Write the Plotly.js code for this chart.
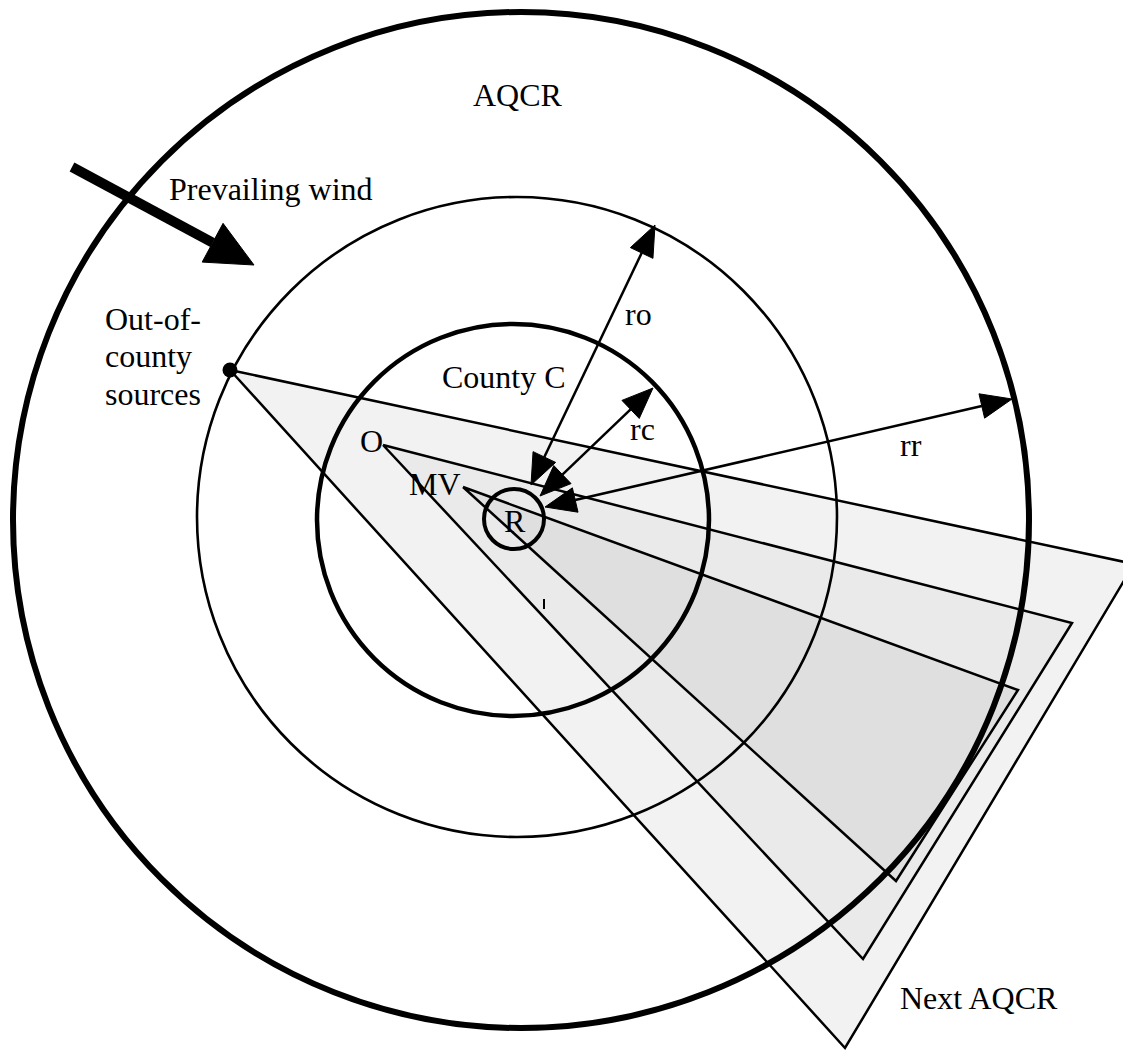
<!DOCTYPE html>
<html>
<head>
<meta charset="utf-8">
<script src="https://cdn.plot.ly/plotly-3.0.1.min.js"></script>
<style>html,body{margin:0;padding:0;background:#fff;}#chart{width:1123px;height:1051px;}</style>
</head>
<body>
<div id="chart"></div>
<script>
// ---- Diagram data (in page pixel units) ----
// Concentric zones: AQCR, out-of-county (ro), County C (rc), receptor R
const circleNames   = ['AQCR', 'ro zone', 'County C', 'R'];
const circleCenterX = [521, 517, 513, 514];
const circleCenterY = [520, 517, 520, 519];
const circleRadius  = [508, 320, 196, 30];

// Source wedges (triangles): out-of-county sources, O, MV
const wedgeNames = ['Out-of-county', 'O', 'MV'];
const wedgeX = [[230, 1134, 845], [383, 1072, 863], [463, 1018, 896]];
const wedgeY = [[370, 564, 1048], [445, 623, 959], [487, 690, 881]];

// Double-headed radius arrows: ro, rc, rr
const radiusArrowNames = ['ro', 'rc', 'rr'];
const radiusArrowX0 = [531, 540, 545];
const radiusArrowY0 = [485, 496, 507];
const radiusArrowX1 = [655, 653, 1012];
const radiusArrowY1 = [225, 388, 399];

// Prevailing wind arrow
const windX = [72, 254];
const windY = [167, 265];

// Out-of-county source point
const sourceX = [230];
const sourceY = [370];

// Labels
const labelTexts = ['AQCR', 'Prevailing wind', 'Out-of-', 'county', 'sources', 'County C',
                    'O', 'MV', 'R', 'ro', 'rc', 'rr', 'Next AQCR'];
const labelX = [518, 167, 103, 103, 103, 440, 371, 435, 515, 623, 628, 898, 898];
const labelY = [95, 189, 319, 356, 394, 377, 441, 484, 521, 314, 429, 445, 998];
const labelAnchor = ['center', 'left', 'left', 'left', 'left', 'left', 'center', 'center',
                     'center', 'left', 'left', 'left', 'left'];

// ---- Styles ----
const FONT = {family: '"Liberation Serif", "Times New Roman", serif', size: 32, color: '#000'};
const wedgeFill = ['#f2f2f2', '#eaeaea', '#dfdfdf'];
const circleWidth = [6, 2.6, 4.5, 4];

function head(tx, ty, sx, sy, L, W) {
  const dx = tx - sx, dy = ty - sy, len = Math.hypot(dx, dy);
  const ux = dx / len, uy = dy / len;
  const bx = tx - L * ux, by = ty - L * uy;
  const nx = -uy, ny = ux;
  return {x: [tx, bx + W * nx, bx - W * nx, tx], y: [ty, by + W * ny, by - W * ny, ty], bx: bx, by: by};
}

const traces = [];

// Wedges
for (let i = 0; i < wedgeNames.length; i++) {
  traces.push({
    type: 'scatter', mode: 'lines', name: wedgeNames[i],
    x: wedgeX[i].concat([wedgeX[i][0]]), y: wedgeY[i].concat([wedgeY[i][0]]),
    fill: 'toself', fillcolor: wedgeFill[i],
    line: {color: '#000', width: 2.5}, hoverinfo: 'skip'
  });
}

// Radius arrows
for (let i = 0; i < radiusArrowNames.length; i++) {
  const x0 = radiusArrowX0[i], y0 = radiusArrowY0[i], x1 = radiusArrowX1[i], y1 = radiusArrowY1[i];
  const hA = head(x1, y1, x0, y0, 31, 12.5);
  const hB = head(x0, y0, x1, y1, 31, 12.5);
  traces.push({type: 'scatter', mode: 'lines', x: [hB.bx, hA.bx], y: [hB.by, hA.by],
               line: {color: '#000', width: 2.5}, hoverinfo: 'skip'});
  [hA, hB].forEach(h => traces.push({type: 'scatter', mode: 'lines', x: h.x, y: h.y,
      fill: 'toself', fillcolor: '#000', line: {color: '#000', width: 1}, hoverinfo: 'skip'}));
}

// Wind arrow
const wh = head(windX[1], windY[1], windX[0], windY[0], 47, 22);
traces.push({type: 'scatter', mode: 'lines', x: [windX[0], wh.bx], y: [windY[0], wh.by],
             line: {color: '#000', width: 10}, hoverinfo: 'skip'});
traces.push({type: 'scatter', mode: 'lines', x: wh.x, y: wh.y, fill: 'toself',
             fillcolor: '#000', line: {color: '#000', width: 1}, hoverinfo: 'skip'});

// Source dot
traces.push({type: 'scatter', mode: 'markers', x: sourceX, y: sourceY,
             marker: {color: '#000', size: 15}, hoverinfo: 'skip'});

// Small tick mark
traces.push({type: 'scatter', mode: 'lines', x: [544, 544], y: [599, 609],
             line: {color: '#000', width: 2}, hoverinfo: 'skip'});

const shapes = circleNames.map((n, i) => ({
  type: 'circle', xref: 'x', yref: 'y', layer: 'above',
  x0: circleCenterX[i] - circleRadius[i], x1: circleCenterX[i] + circleRadius[i],
  y0: circleCenterY[i] - circleRadius[i], y1: circleCenterY[i] + circleRadius[i],
  line: {color: '#000', width: circleWidth[i]}, fillcolor: 'rgba(0,0,0,0)'
}));

const annotations = labelTexts.map((t, i) => ({
  text: t, x: labelX[i], y: labelY[i], xref: 'x', yref: 'y',
  xanchor: labelAnchor[i], yanchor: 'middle', showarrow: false, font: FONT
}));

const layout = {
  width: 1123, height: 1051,
  margin: {l: 0, r: 0, t: 0, b: 0, pad: 0},
  paper_bgcolor: '#fff', plot_bgcolor: '#fff',
  showlegend: false,
  xaxis: {range: [0, 1123], visible: false, fixedrange: true},
  yaxis: {range: [1051, 0], visible: false, fixedrange: true},
  shapes: shapes, annotations: annotations
};

Plotly.newPlot('chart', traces, layout, {displayModeBar: false, staticPlot: true});
</script>
</body>
</html>
